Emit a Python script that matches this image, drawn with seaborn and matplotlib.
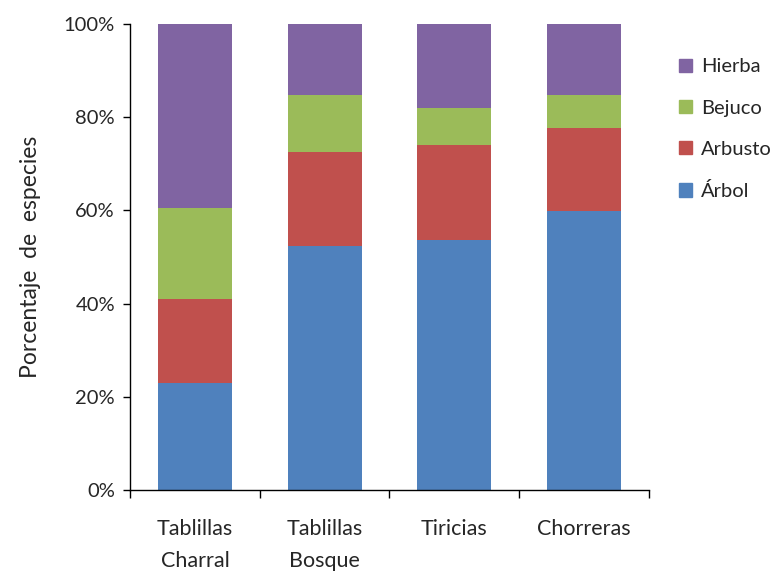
import numpy as np
import pandas as pd
import seaborn as sns
import matplotlib.pyplot as plt
from matplotlib.patches import Patch
from matplotlib.ticker import PercentFormatter

# Data (percent of species per growth form)
sitios = ["Tablillas\nCharral", "Tablillas\nBosque", "Tiricias", "Chorreras"]
formas = ["Árbol", "Arbusto", "Bejuco", "Hierba"]
arbol = [22.9, 52.3, 53.6, 59.9]
arbusto = [18.1, 20.3, 20.5, 17.8]
bejuco = [19.5, 12.2, 8.0, 7.0]
hierba = [39.5, 15.2, 17.9, 15.3]
colores = ["#4F81BD", "#C0504D", "#9BBB59", "#8064A2"]

sns.set_style("white")
plt.rcParams["font.family"] = ["Lato", "DejaVu Sans"]

df = pd.DataFrame({"sitio": sitios, "Árbol": arbol, "Arbusto": arbusto,
                   "Bejuco": bejuco, "Hierba": hierba})
cum = df[formas].cumsum(axis=1)

fig = plt.figure(figsize=(7.75, 5.75), dpi=100)
ax = fig.add_axes([0.168, 0.148, 0.669, 0.81])

# stacked bars: draw cumulative totals, tallest first
for forma, color in reversed(list(zip(formas, colores))):
    sns.barplot(x=df["sitio"], y=cum[forma], color=color, width=0.57,
                saturation=1, linewidth=0, ax=ax)

ax.set_ylim(0, 100)
ax.set_xlim(-0.5, 3.5)
ax.set_yticks(np.arange(0, 101, 20))
ax.yaxis.set_major_formatter(PercentFormatter(decimals=0))
ax.set_xlabel("")
ax.set_ylabel("Porcentaje  de  especies", fontsize=16.5, labelpad=16)
ax.tick_params(axis="y", labelsize=14.5, length=5, width=1, direction="out",
               left=True, color="black", pad=6)
ax.tick_params(axis="x", which="major", labelsize=15.5, length=0, pad=21)
for lbl in ax.get_xticklabels():
    lbl.set_linespacing(1.75)
ax.set_xticks([-0.5, 0.5, 1.5, 2.5, 3.5], minor=True)
ax.tick_params(axis="x", which="minor", length=6, width=1, direction="out",
               bottom=True, color="black")
for s in ["top", "right"]:
    ax.spines[s].set_visible(False)
for s in ["left", "bottom"]:
    ax.spines[s].set_color("black")
    ax.spines[s].set_linewidth(1)

handles = [Patch(color=c, label=f) for f, c in zip(formas, colores)][::-1]
fig.legend(handles=handles, loc="upper left", bbox_to_anchor=(0.853, 0.93),
           frameon=False, fontsize=14.5, handlelength=0.65, handleheight=0.65,
           handletextpad=0.45, labelspacing=1.2)

fig.savefig("out.png", dpi=100)
